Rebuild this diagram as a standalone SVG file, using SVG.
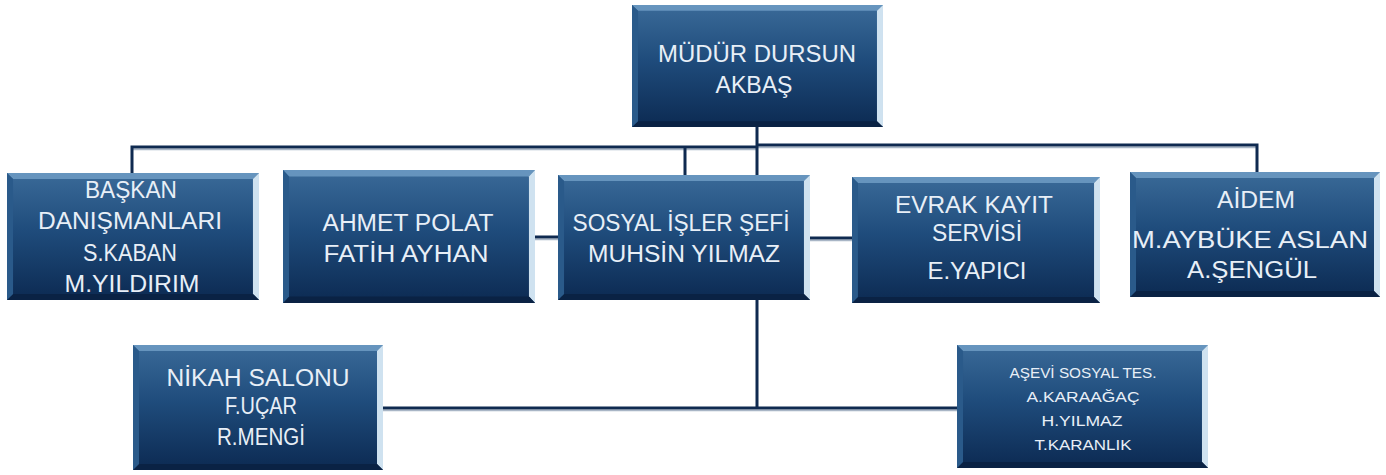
<svg xmlns="http://www.w3.org/2000/svg" xmlns:xlink="http://www.w3.org/1999/xlink" width="1386" height="475" viewBox="0 0 1386 475">
<style>
.t{font-family:"Liberation Sans",Arial,sans-serif;font-size:23px;fill:#e8eff7;text-anchor:middle}
.s{font-size:14.5px}
.c{fill:none;stroke:#0f2a50;stroke-width:3}
.sh{fill:none;stroke:#a9b6c6;stroke-width:1.5}
</style>
<defs>
<linearGradient id="g" x1="0" y1="0" x2="0" y2="1">
<stop offset="0" stop-color="#3a6a98"/>
<stop offset="0.45" stop-color="#1f4c7c"/>
<stop offset="1" stop-color="#0c2a52"/>
</linearGradient>
<symbol id="box" viewBox="0 0 250 125" preserveAspectRatio="none">
<rect x="0" y="0" width="250" height="125" fill="url(#g)"/>
<polygon points="0,0 250,0 244,6 6,6" fill="#6e9cc4" opacity="0.85"/>
<polygon points="250,0 250,125 244,119 244,6" fill="#cfe2f0"/>
<polygon points="0,125 250,125 244,119 6,119" fill="#0a2244"/>
<polygon points="0,0 6,6 6,119 0,125" fill="#2a5a8a"/>
</symbol>
</defs>
<rect width="1386" height="475" fill="#ffffff"/>
<g id="connectors">
<path class="sh" d="M132,149.5 H757 M757,147.5 H1257 M535,239.5 H558 M810,240.5 H852 M383,410.5 H957"/>
<path class="c" d="M757,127 V408 M132,173 V147 H757 M685,147 V175 M757,145 H1257 V172 M535,237 H558 M810,238 H852 M383,408 H957"/>
</g>
<g id="mudur">
<use xlink:href="#box" x="632" y="5" width="251" height="122"/>
<text class="t" x="757" y="62" textLength="198" lengthAdjust="spacingAndGlyphs">MÜDÜR DURSUN</text>
<text class="t" x="754" y="93" textLength="77" lengthAdjust="spacingAndGlyphs">AKBAŞ</text>
</g>
<g id="baskan">
<use xlink:href="#box" x="7" y="173" width="252" height="127"/>
<text class="t" x="131" y="198" textLength="92" lengthAdjust="spacingAndGlyphs">BAŞKAN</text>
<text class="t" x="130" y="229" textLength="184" lengthAdjust="spacingAndGlyphs">DANIŞMANLARI</text>
<text class="t" x="130" y="261" textLength="94" lengthAdjust="spacingAndGlyphs">S.KABAN</text>
<text class="t" x="132" y="292" textLength="135" lengthAdjust="spacingAndGlyphs">M.YILDIRIM</text>
</g>
<g id="ahmet">
<use xlink:href="#box" x="283" y="170" width="252" height="133"/>
<text class="t" x="408" y="231" textLength="171" lengthAdjust="spacingAndGlyphs">AHMET POLAT</text>
<text class="t" x="406" y="262" textLength="165" lengthAdjust="spacingAndGlyphs">FATİH AYHAN</text>
</g>
<g id="sosyal">
<use xlink:href="#box" x="558" y="175" width="252" height="125"/>
<text class="t" x="681" y="231" textLength="217" lengthAdjust="spacingAndGlyphs">SOSYAL İŞLER ŞEFİ</text>
<text class="t" x="684" y="262" textLength="192" lengthAdjust="spacingAndGlyphs">MUHSİN YILMAZ</text>
</g>
<g id="evrak">
<use xlink:href="#box" x="852" y="177" width="248" height="126"/>
<text class="t" x="974" y="213" textLength="158" lengthAdjust="spacingAndGlyphs">EVRAK KAYIT</text>
<text class="t" x="977" y="241" textLength="90" lengthAdjust="spacingAndGlyphs">SERVİSİ</text>
<text class="t" x="977" y="279" textLength="99" lengthAdjust="spacingAndGlyphs">E.YAPICI</text>
</g>
<g id="aidem">
<use xlink:href="#box" x="1130" y="172" width="250" height="125"/>
<text class="t" x="1256" y="208" textLength="78" lengthAdjust="spacingAndGlyphs">AİDEM</text>
<text class="t" x="1250" y="248" textLength="236" lengthAdjust="spacingAndGlyphs">M.AYBÜKE ASLAN</text>
<text class="t" x="1252" y="278" textLength="130" lengthAdjust="spacingAndGlyphs">A.ŞENGÜL</text>
</g>
<g id="nikah">
<use xlink:href="#box" x="133" y="345" width="250" height="125"/>
<text class="t" x="258" y="386" textLength="183" lengthAdjust="spacingAndGlyphs">NİKAH SALONU</text>
<text class="t" x="261" y="414" textLength="72" lengthAdjust="spacingAndGlyphs">F.UÇAR</text>
<text class="t" x="261" y="445" textLength="88" lengthAdjust="spacingAndGlyphs">R.MENGİ</text>
</g>
<g id="asevi">
<use xlink:href="#box" x="957" y="345" width="251" height="123"/>
<text class="t s" x="1083" y="378" textLength="147" lengthAdjust="spacingAndGlyphs">AŞEVİ SOSYAL TES.</text>
<text class="t s" x="1083" y="402" textLength="113" lengthAdjust="spacingAndGlyphs">A.KARAAĞAÇ</text>
<text class="t s" x="1082" y="426" textLength="81" lengthAdjust="spacingAndGlyphs">H.YILMAZ</text>
<text class="t s" x="1083" y="450" textLength="97" lengthAdjust="spacingAndGlyphs">T.KARANLIK</text>
</g>
</svg>
